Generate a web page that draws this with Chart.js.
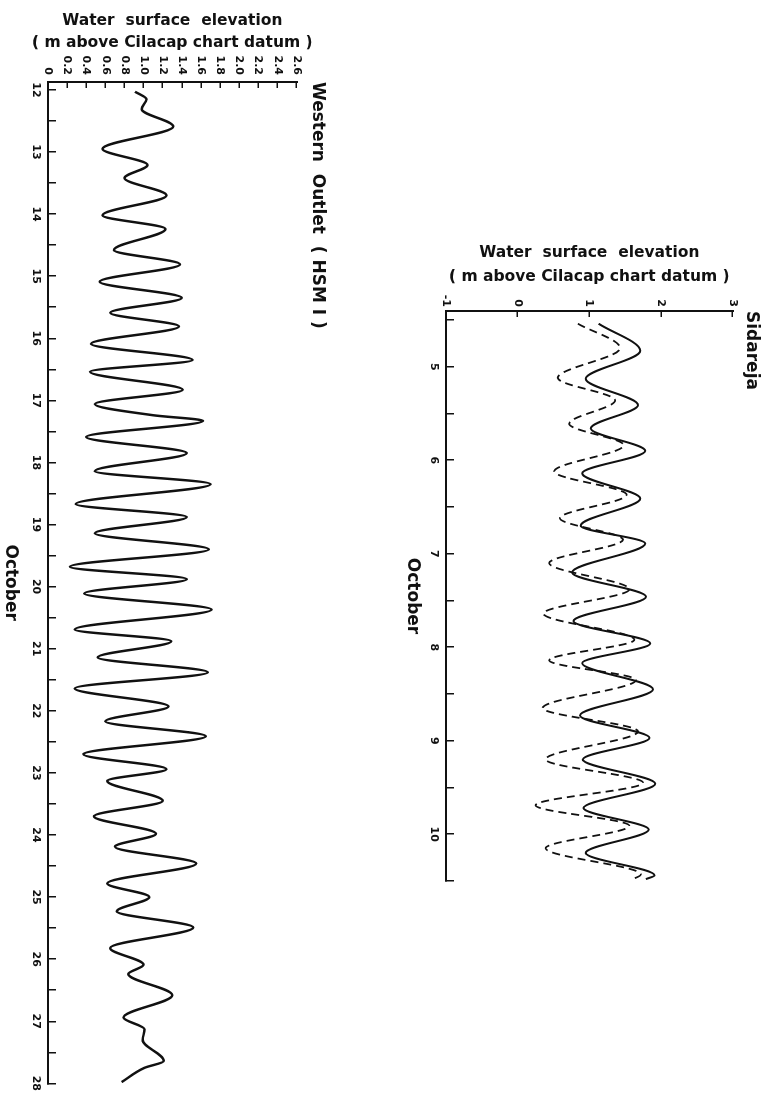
<!DOCTYPE html>
<html>
<head>
<meta charset="utf-8">
<script src="https://cdn.jsdelivr.net/npm/chart.js@4.4.1/dist/chart.umd.min.js"></script>
<style>
  body { margin: 0; background: #fff; width: 770px; height: 1105px; overflow: hidden; position: relative; }
  .turn { position: absolute; transform-origin: 0 0; transform: rotate(90deg); }
</style>
</head>
<body>
<div class="turn" style="left:335px;top:0px"><canvas id="west-chart" width="1105" height="335"></canvas></div>
<div class="turn" style="left:770px;top:225px"><canvas id="sidareja-chart" width="675" height="375"></canvas></div>
<script>
// Western Outlet (HSM I), 12-28 October: day of month and level (m above chart datum)
const westDays = [12.03, 12.15, 12.31, 12.59, 12.95, 13.21, 13.42, 13.70, 14.02, 14.24, 14.58, 14.81, 15.09, 15.35, 15.59, 15.81,
  16.09, 16.35, 16.54, 16.83, 17.06, 17.24, 17.33, 17.59, 17.85, 18.14, 18.35, 18.67, 18.88, 19.14, 19.40, 19.68,
  19.88, 20.11, 20.37, 20.69, 20.88, 21.14, 21.38, 21.64, 21.93, 22.17, 22.41, 22.70, 22.94, 23.13, 23.45, 23.70,
  23.98, 24.19, 24.46, 24.78, 25.00, 25.23, 25.49, 25.82, 26.09, 26.24, 26.58, 26.94, 27.13, 27.30, 27.64, 27.75, 27.98]
const westLevel = [0.91, 1.03, 0.98, 1.31, 0.57, 1.04, 0.80, 1.24, 0.57, 1.23, 0.69, 1.38, 0.54, 1.40, 0.65, 1.37,
  0.45, 1.51, 0.44, 1.41, 0.49, 1.10, 1.62, 0.40, 1.45, 0.49, 1.70, 0.29, 1.45, 0.49, 1.68, 0.23,
  1.45, 0.38, 1.71, 0.28, 1.29, 0.52, 1.67, 0.28, 1.26, 0.60, 1.65, 0.37, 1.24, 0.62, 1.20, 0.48,
  1.13, 0.70, 1.55, 0.62, 1.06, 0.72, 1.52, 0.65, 1.00, 0.84, 1.30, 0.79, 1.01, 0.99, 1.21, 1.01, 0.77]
const westDayTicks = [12, 12.5, 13, 13.5, 14, 14.5, 15, 15.5, 16, 16.5, 17, 17.5, 18, 18.5, 19, 19.5, 20, 20.5,
  21, 21.5, 22, 22.5, 23, 23.5, 24, 24.5, 25, 25.5, 26, 26.5, 27, 27.5, 28]
const westLevelTicks = [0, 0.2, 0.4, 0.6, 0.8, 1.0, 1.2, 1.4, 1.6, 1.8, 2.0, 2.2, 2.4, 2.6]
const westLevelLabels = ['0', '0.2', '0.4', '0.6', '0.8', '1.0', '1.2', '1.4', '1.6', '1.8', '2.0', '2.2', '2.4', '2.6']

// Sidareja, 4-10 October: solid and dashed curves
const sidDays = [4.54, 4.83, 5.13, 5.41, 5.66, 5.90, 6.14, 6.41, 6.70, 6.89, 7.20, 7.46, 7.72, 7.96, 8.17,
  8.45, 8.73, 8.97, 9.20, 9.46, 9.72, 9.95, 10.20, 10.44, 10.48]
const sidSolid = [1.13, 1.71, 0.95, 1.68, 1.02, 1.78, 0.90, 1.71, 0.88, 1.78, 0.76, 1.79, 0.78, 1.85, 0.90,
  1.89, 0.87, 1.84, 0.91, 1.92, 0.92, 1.83, 0.95, 1.91, 1.79]
const sidDashDays = [4.54, 4.80, 5.12, 5.36, 5.61, 5.84, 6.12, 6.37, 6.62, 6.85, 7.10, 7.38, 7.64, 7.92, 8.14,
  8.35, 8.65, 8.90, 9.20, 9.45, 9.69, 9.91, 10.15, 10.43, 10.49]
const sidDashed = [0.84, 1.43, 0.56, 1.36, 0.72, 1.48, 0.51, 1.52, 0.59, 1.47, 0.44, 1.56, 0.36, 1.63, 0.44,
  1.65, 0.35, 1.68, 0.39, 1.75, 0.25, 1.56, 0.39, 1.72, 1.58]
const sidDayTicks = [4.5, 5, 5.5, 6, 6.5, 7, 7.5, 8, 8.5, 9, 9.5, 10, 10.5]
const sidLevelTicks = [-1, 0, 1, 2, 3]
const sidLevelLabels = ['-1', '0', '1', '2', '3']

const ink = '#111'
const face = 'DejaVu Sans'
const pts = (xs, ys) => xs.map((x, i) => ({ x, y: ys[i] }))

const dayAxis = (min, max, ticks, height, titlePad) => ({
  type: 'linear', position: 'bottom', min, max,
  afterBuildTicks: s => { s.ticks = ticks.map(v => ({ value: v })) },
  afterFit: s => { s.height = height },
  grid: { drawOnChartArea: false, tickLength: -8, color: ink, lineWidth: 1.5 },
  border: { color: ink, width: 2 },
  ticks: { autoSkip: false, maxRotation: 0, padding: 14, color: ink, font: { family: face, size: 11, weight: 'bold' },
    callback: v => Number.isInteger(v) ? String(v) : '' },
  title: { display: true, text: 'October', color: ink, font: { family: face, size: 17, weight: 'bold' },
    padding: { top: 0, bottom: titlePad } }
})

const levelAxis = (min, max, ticks, labels, width, labelPad, titlePad, lineGap) => ({
  type: 'linear', position: 'left', min, max,
  afterBuildTicks: s => { s.ticks = ticks.map(v => ({ value: v })) },
  afterFit: s => { s.width = width },
  grid: { drawOnChartArea: false, tickLength: -6, color: ink, lineWidth: 1.5 },
  border: { color: ink, width: 2 },
  ticks: { autoSkip: false, padding: labelPad, color: ink, font: { family: face, size: 11, weight: 'bold' },
    callback: (v, i) => labels[i] },
  title: { display: true, text: ['Water  surface  elevation', '( m above Cilacap chart datum )'], color: ink,
    font: { family: face, size: 15.5, weight: 'bold', lineHeight: lineGap + 'px' }, padding: { top: titlePad, bottom: 0 } }
})

const plotTitle = (text, top, bottom) => ({
  display: true, text, align: 'start', fullSize: false, color: ink,
  font: { family: face, size: 17, weight: 'bold' }, padding: { top, bottom }
})

new Chart(document.getElementById('west-chart').getContext('2d'), {
  type: 'scatter',
  data: {
    datasets: [{
      data: pts(westDays, westLevel), showLine: true, borderColor: ink, borderWidth: 2.5,
      pointRadius: 0, cubicInterpolationMode: 'monotone'
    }]
  },
  options: {
    responsive: false, animation: false,
    layout: { padding: { left: 0, right: 11, top: 0, bottom: 0 } },
    scales: {
      x: dayAxis(11.873, 28, westDayTicks, 48, 0),
      y: levelAxis(0, 2.6, westLevelTicks, westLevelLabels, 82, 13, 10, 22)
    },
    plugins: {
      legend: { display: false },
      tooltip: { enabled: false },
      title: plotTitle('Western  Outlet  ( HSM I )', 7, 11)
    }
  }
})

new Chart(document.getElementById('sidareja-chart').getContext('2d'), {
  type: 'scatter',
  data: {
    datasets: [{
      data: pts(sidDays, sidSolid), showLine: true, borderColor: ink, borderWidth: 2,
      pointRadius: 0, cubicInterpolationMode: 'monotone'
    }, {
      data: pts(sidDashDays, sidDashed), showLine: true, borderColor: ink, borderWidth: 1.8, borderDash: [8, 5],
      pointRadius: 0, cubicInterpolationMode: 'monotone'
    }]
  },
  options: {
    responsive: false, animation: false,
    layout: { padding: { left: 0, right: 19, top: 0, bottom: 0 } },
    scales: {
      x: dayAxis(4.404, 10.5, sidDayTicks, 51, 7),
      y: levelAxis(-1, 3, sidLevelTicks, sidLevelLabels, 86, 10, 16, 24)
    },
    plugins: {
      legend: { display: false },
      tooltip: { enabled: false },
      title: plotTitle('Sidareja', 8, 9)
    }
  }
})
</script>
</body>
</html>
